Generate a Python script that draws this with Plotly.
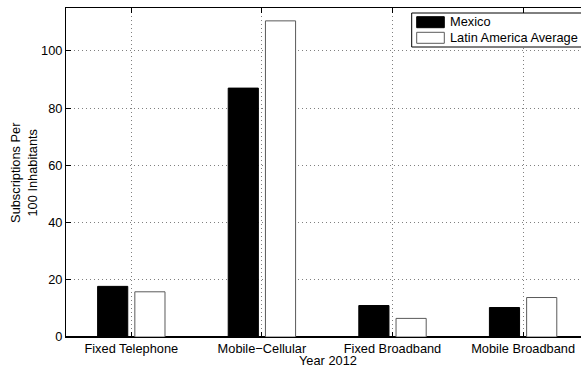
import plotly.graph_objects as go

# Telecom penetration, year 2012 (subscriptions per 100 inhabitants)
categories = ["Fixed Telephone", "Mobile\u2212Cellular", "Fixed Broadband", "Mobile Broadband"]
mexico = [17.7, 87.0, 11.0, 10.3]
latam_avg = [15.8, 110.5, 6.5, 13.8]
y_ticks = [0, 20, 40, 60, 80, 100]

FONT = dict(family="Liberation Sans, Arial, Helvetica, sans-serif", size=12.8, color="black")
GRID = dict(showgrid=True, gridcolor="#808080", griddash="1px,3px", gridwidth=1)

W, H = 581, 369
ML, MR, MT, MB = 66, 0, 8, 32
PW, PH = W - ML - MR, H - MT - MB


def px(x):
    return (x - ML) / PW


def py(y):
    return (H - MB - y) / PH


fig = go.Figure()
fig.add_trace(go.Bar(
    x=categories, y=mexico, name="Mexico",
    marker=dict(color="black", line=dict(color="black", width=1)),
))
fig.add_trace(go.Bar(
    x=categories, y=latam_avg, name="Latin America Average",
    marker=dict(color="white", line=dict(color="#5a5a5a", width=1)),
))

# hand-drawn legend box with wide swatches
shapes = [
    dict(type="rect", xref="paper", yref="paper", layer="above",
         x0=px(411.7), x1=px(600), y0=py(47), y1=py(13),
         line=dict(color="black", width=1), fillcolor="white"),
    dict(type="rect", xref="paper", yref="paper", layer="above",
         x0=px(416.7), x1=px(444.3), y0=py(27.7), y1=py(16.7),
         line=dict(color="black", width=1), fillcolor="black"),
    dict(type="rect", xref="paper", yref="paper", layer="above",
         x0=px(416.7), x1=px(444.3), y0=py(43.3), y1=py(32.3),
         line=dict(color="#5a5a5a", width=1), fillcolor="white"),
]

annotations = [
    dict(text="Mexico", xref="paper", yref="paper", x=px(448), y=py(22),
         xanchor="left", yanchor="middle", showarrow=False, font=FONT),
    dict(text="Latin America Average", xref="paper", yref="paper", x=px(448), y=py(38),
         xanchor="left", yanchor="middle", showarrow=False, font=FONT),
    dict(text="Year 2012", xref="paper", yref="paper", x=px(327.5), y=py(360.5),
         xanchor="center", yanchor="middle", showarrow=False, font=FONT),
    dict(text="Subscriptions Per<br>100 Inhabitants", xref="paper", yref="paper",
         x=0, xshift=-42.6, y=0.5, xanchor="center", yanchor="middle",
         textangle=-90, showarrow=False, font=FONT),
]

fig.update_layout(
    width=W, height=H,
    margin=dict(l=ML, r=MR, t=MT, b=MB, pad=0),
    paper_bgcolor="white", plot_bgcolor="white",
    font=FONT,
    showlegend=False,
    barmode="group", bargap=0.43, bargroupgap=0.19,
    shapes=shapes, annotations=annotations,
    xaxis=dict(
        type="category", range=[-0.5, -0.5 + PW / 130.6],
        showline=True, linecolor="black", linewidth=1, mirror="ticks",
        ticks="inside", ticklen=5, tickcolor="black",
        tickfont=FONT, zeroline=False, **GRID,
    ),
    yaxis=dict(
        range=[0, 115], tickvals=y_ticks,
        showline=True, linecolor="black", linewidth=1, mirror=False,
        ticks="inside", ticklen=5, tickcolor="black",
        tickfont=FONT, zeroline=True, zerolinecolor="black", zerolinewidth=1.5,
        **GRID,
    ),
)

fig.write_html("out.html")
